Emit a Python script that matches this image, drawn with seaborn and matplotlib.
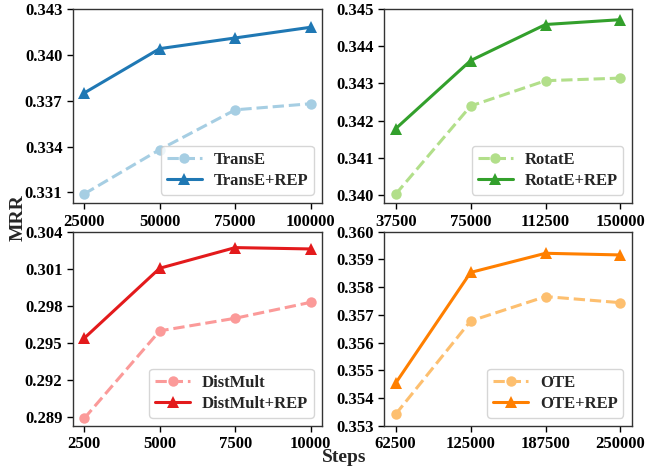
import numpy as np
import pandas as pd
import matplotlib
matplotlib.use("Agg")
import matplotlib.pyplot as plt
import seaborn as sns

sns.set_style("ticks")
plt.rcParams['font.family'] = ['Liberation Serif', 'DejaVu Serif']
plt.rcParams['font.weight'] = 'bold'
plt.rcParams['axes.labelweight'] = 'bold'

# ---- data ----
transe_steps = [25000, 50000, 75000, 100000]
transe_base = [0.3309, 0.3338, 0.3364, 0.3368]
transe_rep = [0.3375, 0.3404, 0.3411, 0.3418]

rotate_steps = [37500, 75000, 112500, 150000]
rotate_base = [0.34002, 0.34239, 0.34307, 0.34314]
rotate_rep = [0.34178, 0.34361, 0.34458, 0.34471]

distmult_steps = [2500, 5000, 7500, 10000]
distmult_base = [0.2889, 0.29598, 0.2970, 0.29829]
distmult_rep = [0.29538, 0.30104, 0.30271, 0.3026]

ote_steps = [62500, 125000, 187500, 250000]
ote_base = [0.35342, 0.35678, 0.35766, 0.35744]
ote_rep = [0.35454, 0.35853, 0.35922, 0.35916]

names = ["TransE", "RotatE", "DistMult", "OTE"]
yticks = [
    [0.331, 0.334, 0.337, 0.340, 0.343],
    [0.340, 0.341, 0.342, 0.343, 0.344, 0.345],
    [0.289, 0.292, 0.295, 0.298, 0.301, 0.304],
    [0.353, 0.354, 0.355, 0.356, 0.357, 0.358, 0.359, 0.360],
]
ylims = [(0.3303, 0.343), (0.33978, 0.345), (0.2883, 0.304), (0.353, 0.360)]
light = ["#a6cee3", "#b2df8a", "#fb9a99", "#fdbf6f"]
dark = ["#1f78b4", "#33a02c", "#e31a1c", "#ff7f00"]

panels = [
    (transe_steps, transe_base, transe_rep),
    (rotate_steps, rotate_base, rotate_rep),
    (distmult_steps, distmult_base, distmult_rep),
    (ote_steps, ote_base, ote_rep),
]

fig = plt.figure(figsize=(6.56, 4.67), dpi=100)
rects = [
    [0.111, 0.565, 0.380, 0.416],
    [0.586, 0.565, 0.377, 0.416],
    [0.111, 0.088, 0.380, 0.416],
    [0.586, 0.088, 0.377, 0.416],
]

for i, (steps, base, rep) in enumerate(panels):
    ax = fig.add_axes(rects[i])
    sns.lineplot(x=steps, y=base, ax=ax, color=light[i], linestyle="--",
                 marker="o", markersize=7.5, linewidth=2.2, markeredgewidth=0,
                 label=names[i])
    sns.lineplot(x=steps, y=rep, ax=ax, color=dark[i], linestyle="-",
                 marker="^", markersize=8.5, linewidth=2.2, markeredgewidth=0,
                 label=names[i] + "+REP")
    ax.set_xticks(steps)
    ax.set_xticklabels([str(s) for s in steps], fontsize=12, fontweight="bold")
    ax.set_yticks(yticks[i])
    ax.set_yticklabels(["%.3f" % t for t in yticks[i]], fontsize=12, fontweight="bold")
    ax.set_ylim(*ylims[i])
    for sp in ax.spines.values():
        sp.set_color("#333333")
        sp.set_linewidth(1.0)
    ax.tick_params(length=4, width=1, colors="black")
    ax.legend(loc="lower right", prop={"size": 12, "weight": "bold"},
              handlelength=2.1, handletextpad=0.7, borderpad=0.35,
              labelspacing=0.3, borderaxespad=0.5)

fig.text(0.028, 0.535, "MRR", rotation=90, ha="center", va="center",
         fontsize=14, fontweight="bold")
fig.text(0.525, 0.02, "Steps", ha="center", va="center",
         fontsize=14, fontweight="bold")

fig.savefig("out.png", dpi=100)
